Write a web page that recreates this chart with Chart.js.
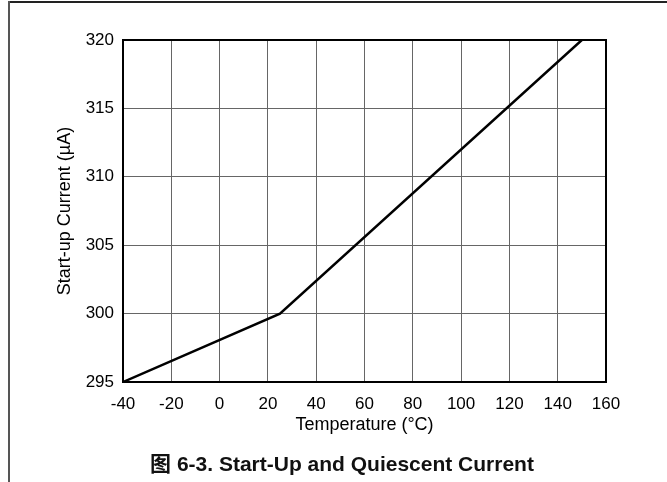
<!DOCTYPE html>
<html>
<head>
<meta charset="utf-8">
<script src="https://cdn.jsdelivr.net/npm/chart.js@4"></script>
<style>
  html, body { margin: 0; padding: 0; background: #fff; }
  #wrap { position: relative; width: 667px; height: 482px; overflow: hidden; }
  #frameTop { position: absolute; left: 8px; top: 1px; width: 670px; height: 2px; background: #222; }
  #frameLeft { position: absolute; left: 8px; top: 1px; width: 2px; height: 490px; background: #555; }
  #caption {
    position: absolute; left: 0; width: 684px; top: 447px; text-align: center;
    font: bold 21px "Liberation Sans", Arial, "Noto Sans CJK SC", sans-serif; color: #111;
  }
  canvas { position: absolute; left: 0; top: 0; }
</style>
</head>
<body>
<div id="wrap">
  <canvas id="chart" width="667" height="482"></canvas>
  <div id="frameTop"></div>
  <div id="frameLeft"></div>
  <div id="caption">图 6-3. Start-Up and Quiescent Current</div>
</div>
<script>
// Data
const temperatures = [-40, 25, 150];
const startupCurrent = [295, 300, 320];

const xTitle = 'Temperature (°C)';
const yTitle = 'Start-up Current (µA)';

const family = '"Liberation Sans", Arial, sans-serif';
const tickFont = { family: family, size: 17 };
const titleFont = { family: family, size: 18 };

const ctx = document.getElementById('chart').getContext('2d');
new Chart(ctx, {
    type: 'line',
    data: {
        datasets: [{
            data: temperatures.map((t, i) => ({ x: t, y: startupCurrent[i] })),
            borderColor: '#000',
            borderWidth: 2.5,
            pointRadius: 0,
            tension: 0,
            fill: false
        }]
    },
    options: {
        responsive: false,
        animation: false,
        layout: { padding: { left: 0, right: 61, top: 40, bottom: 40 } },
        plugins: { legend: { display: false }, tooltip: { enabled: false } },
        scales: {
            x: {
                type: 'linear',
                min: -40,
                max: 160,
                ticks: { stepSize: 20, color: '#000', font: tickFont, padding: 12, maxRotation: 0 },
                grid: { color: '#666', lineWidth: 1, drawTicks: false },
                border: { color: '#000', width: 2 },
                title: { display: true, text: xTitle, color: '#000', font: titleFont, padding: { top: 0, bottom: 6 } },
                afterFit: (scale) => { scale.height = 60; }
            },
            y: {
                min: 295,
                max: 320,
                ticks: { stepSize: 5, color: '#000', font: tickFont, padding: 9 },
                grid: { color: '#666', lineWidth: 1, drawTicks: false },
                border: { color: '#000', width: 2 },
                title: { display: true, text: yTitle, color: '#000', font: titleFont, padding: { top: 54, bottom: 0 } },
                afterFit: (scale) => { scale.width = 123; }
            }
        }
    },
    plugins: [{
        id: 'frame',
        afterDatasetsDraw(chart) {
            const { ctx, chartArea: a } = chart;
            ctx.save();
            ctx.strokeStyle = '#000';
            ctx.lineWidth = 2;
            ctx.strokeRect(a.left, a.top, a.right - a.left, a.bottom - a.top);
            ctx.restore();
        }
    }]
});
</script>
</body>
</html>
